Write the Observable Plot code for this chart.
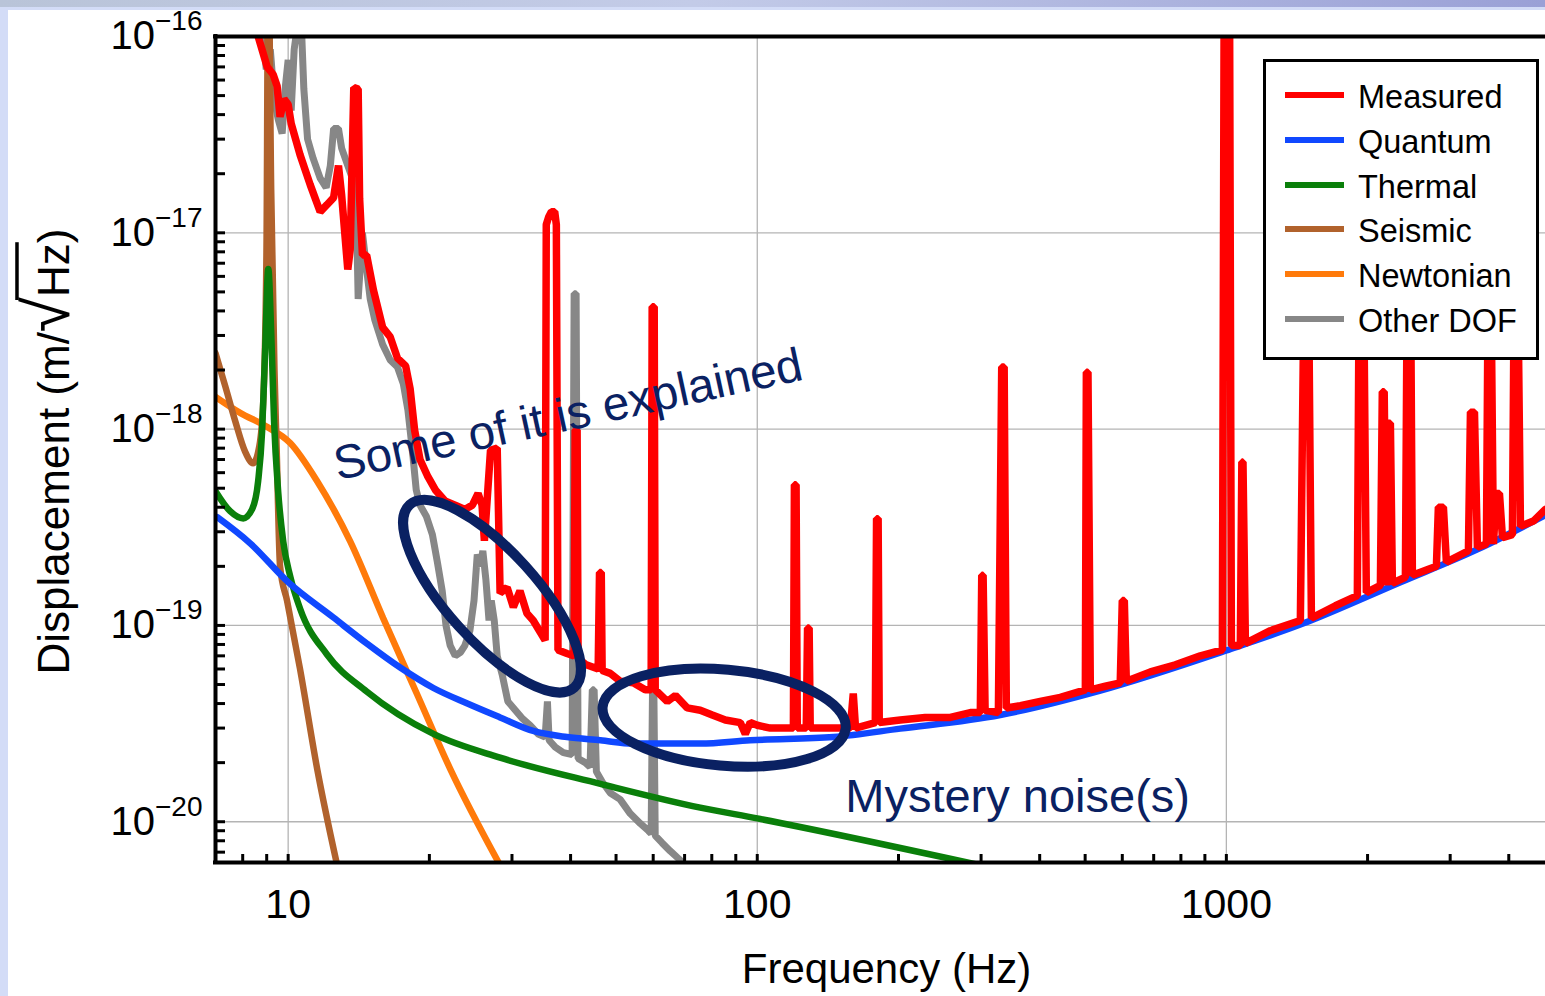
<!DOCTYPE html>
<html>
<head>
<meta charset="utf-8">
<script src="https://cdn.jsdelivr.net/npm/d3@7"></script>
<script src="https://cdn.jsdelivr.net/npm/@observablehq/plot@0.6"></script>
<style>
html,body{margin:0;padding:0;}
body{width:1545px;height:996px;overflow:hidden;background:#d3dcf7;position:relative;font-family:"Liberation Sans",Arial,sans-serif;}
#topband{position:absolute;left:0;top:0;width:1545px;height:7px;background:linear-gradient(to right,#b9c4d8,#c3cbe8 45%,#9aa0d6);}
#sheet{position:absolute;left:8px;top:10px;width:1537px;height:986px;background:#fff;}
#legend{position:absolute;left:1263px;top:59px;width:270px;height:295px;border:3px solid #000;background:#fff;}
.item{position:absolute;left:0;width:270px;height:44px;}
.sw{position:absolute;left:19px;top:19px;width:59px;height:6px;}
.lb{position:absolute;left:92px;top:2px;line-height:44px;font-size:32.5px;color:#000;white-space:nowrap;}
</style>
</head>
<body>
<div id="topband"></div>
<div id="sheet"></div>
<div id="legend"></div>
<script>
// ---------- data (Hz, m/sqrt(Hz)) ----------
const seriesNames = ["Measured", "Quantum", "Thermal", "Seismic", "Newtonian", "Other DOF"];
const seriesColors = ["#ff0000", "#1048ff", "#0a7f0a", "#b1622c", "#ff7a0a", "#878787"];

const xTickLabels = [10, 100, 1000];
const yTickLabels = [1e-20, 1e-19, 1e-18, 1e-17, 1e-16];
const xDomain = [7, 4790];
const yDomain = [6.2e-21, 1e-16];

const quantumHz  = [7.06, 8.3, 10, 12.47, 14.7, 17.33, 20.4, 24.1, 28.3, 33.3, 39.3, 46.3, 54.4, 75.6, 96.6, 145.3, 201.8, 329.6, 538.6, 1000, 1438, 2350, 3429, 4786];
const quantumAsd = [3.56e-19, 2.62e-19, 1.66e-19, 1.10e-19, 8.1e-20, 6.1e-20, 4.8e-20, 4.0e-20, 3.4e-20, 2.9e-20, 2.7e-20, 2.6e-20, 2.5e-20, 2.5e-20, 2.6e-20, 2.7e-20, 2.98e-20, 3.5e-20, 4.66e-20, 7.46e-20, 1.01e-19, 1.66e-19, 2.44e-19, 3.64e-19];

const thermalHz  = [7.0, 7.52, 8.02, 8.38, 8.63, 8.80, 8.93, 9.07, 9.20, 9.33, 9.52, 9.76, 10.1, 10.6, 12.1, 14.7, 20.4, 28.3, 46.3, 75.6, 100, 299];
const thermalAsd = [4.83e-19, 3.82e-19, 3.51e-19, 3.91e-19, 5.43e-19, 9.77e-19, 2.5e-18, 6.55e-18, 3.16e-18, 1.1e-18, 4.83e-19, 2.68e-19, 1.78e-19, 1.22e-19, 7.11e-20, 4.61e-20, 2.8e-20, 2.12e-20, 1.56e-20, 1.18e-20, 1.04e-20, 6.0e-21];

const seismicHz  = [7.0, 7.34, 7.71, 8.09, 8.42, 8.68, 8.85, 8.99, 9.07, 9.2, 9.35, 9.45, 9.61, 9.95, 10.6, 11.53, 12.72];
const seismicAsd = [2.44e-18, 1.66e-18, 1.1e-18, 7.7e-19, 6.7e-19, 8.2e-19, 1.39e-18, 8e-18, 3e-16, 1.66e-17, 2e-18, 8e-19, 2.0e-19, 1.33e-19, 6.0e-20, 1.86e-20, 6.0e-21];

const newtonianHz  = [7.0, 7.9, 8.93, 10.1, 11.53, 13.56, 15.94, 18.84, 22.15, 28.3];
const newtonianAsd = [1.46e-18, 1.21e-18, 1.04e-18, 8.5e-19, 5.43e-19, 2.68e-19, 1.09e-19, 4.45e-20, 1.86e-20, 6.0e-21];

const measuredPts = [
  [8.5, 2e-16], [8.63, 1.0e-16], [9.02, 7.0e-17], [9.29, 6.4e-17], [9.47, 5.6e-17], [9.61, 3.9e-17],
  [9.80, 4.8e-17], [10.0, 4.5e-17], [10.15, 3.6e-17], [10.6, 2.5e-17], [11.14, 1.76e-17], [11.7, 1.28e-17],
  [12.1, 1.39e-17], [12.5, 1.51e-17], [12.8, 2.2e-17], [13.0, 1.56e-17], [13.4, 6.5e-18], [13.56, 8.2e-18],
  [13.8, 5.5e-17], [14.1, 5.4e-17], [14.2, 1.5e-17], [14.4, 7.7e-18], [14.7, 7.7e-18], [15.2, 5.1e-18],
  [15.9, 3.3e-18], [16.5, 2.95e-18], [17.1, 2.3e-18], [17.8, 2.1e-18], [18.2, 1.6e-18], [18.6, 9.9e-19],
  [19.1, 7.0e-19], [19.8, 5.8e-19], [20.6, 4.9e-19], [21.6, 4.3e-19], [22.7, 4.1e-19], [23.8, 3.9e-19],
  [24.7, 4.1e-19], [25.4, 4.7e-19], [25.9, 4.1e-19], [26.2, 2.7e-19], [27.0, 7.8e-19], [27.9, 8.0e-19],
  [28.3, 1.46e-19], [29.3, 1.56e-19], [30.2, 1.24e-19], [31.2, 1.5e-19], [32.3, 1.15e-19], [33.3, 1.06e-19],
  [34.5, 9.2e-20], [35.3, 8.4e-20], [35.5, 1.1e-17], [35.9, 1.2e-17], [36.4, 1.28e-17], [37.0, 1.28e-17],
  [37.3, 1.1e-17], [37.6, 7.5e-20], [39.3, 7.2e-20], [40.7, 7.0e-20], [40.9, 9.9e-19], [41.3, 9.9e-19],
  [41.5, 6.8e-20], [43.2, 6.3e-20], [45.8, 6.0e-20], [46.1, 1.86e-19], [46.5, 1.86e-19], [46.7, 5.9e-20],
  [48.6, 5.7e-20], [51.0, 5.2e-20], [54.4, 5.1e-20], [57.7, 4.7e-20], [59.4, 4.7e-20], [59.7, 4.2e-18],
  [60.3, 4.2e-18], [60.6, 4.7e-20], [64.3, 4.1e-20], [66.9, 4.4e-20], [70.9, 3.8e-20], [75.6, 3.7e-20],
  [80.2, 3.5e-20], [85.5, 3.3e-20], [92.0, 3.2e-20], [94.3, 2.8e-20], [96.6, 3.2e-20], [100, 3.1e-20],
  [106.6, 3.0e-20], [114.7, 3.0e-20], [119.4, 3.0e-20], [120.0, 5.2e-19], [121.0, 5.2e-19], [121.7, 3.0e-20],
  [127.2, 3.0e-20], [128.0, 9.7e-20], [129.0, 9.7e-20], [129.7, 3.0e-20], [143.1, 3.0e-20], [157.9, 3.0e-20],
  [160.2, 4.5e-20], [162, 3.0e-20], [178.5, 3.2e-20], [179.6, 3.5e-19], [181.0, 3.5e-19], [182.0, 3.2e-20],
  [201.8, 3.3e-20], [228, 3.4e-20], [258, 3.4e-20], [284.6, 3.6e-20], [298.9, 3.6e-20], [301, 1.8e-19],
  [303, 1.8e-19], [306, 3.7e-20], [326.6, 3.6e-20], [332, 2.07e-18], [336, 2.07e-18], [339.6, 3.8e-20],
  [363.8, 3.9e-20], [401, 4.1e-20], [442.6, 4.3e-20], [500.5, 4.7e-20], [503, 1.95e-18], [507, 1.95e-18],
  [512.9, 4.7e-20], [552, 4.9e-20], [594, 5.1e-20], [600, 1.34e-19], [606, 1.34e-19], [612, 5.2e-20],
  [688.6, 5.8e-20], [778.6, 6.3e-20], [880.3, 7.0e-20], [980.6, 7.5e-20], [990, 3e-16], [1015, 3e-16],
  [1025, 7.9e-20], [1071, 7.9e-20], [1079, 6.8e-19], [1085, 6.8e-19], [1098, 8.1e-20], [1241, 9.4e-20],
  [1438, 1.06e-19], [1467, 8e-18], [1495, 8e-18], [1518, 1.09e-19], [1708, 1.26e-19], [1902, 1.42e-19],
  [1921, 8e-18], [1959, 8e-18], [1988, 1.47e-19], [2130, 1.6e-19], [2150, 1.55e-18], [2170, 1.55e-18],
  [2194, 1.6e-19], [2215, 1.07e-18], [2237, 1.07e-18], [2259, 1.64e-19], [2408, 1.76e-19], [2432, 8e-18],
  [2468, 8e-18], [2492, 1.8e-19], [2804, 2.0e-19], [2831, 4.0e-19], [2902, 4.0e-19], [2945, 2.1e-19],
  [3281, 2.4e-19], [3314, 1.22e-18], [3380, 1.22e-18], [3429, 2.5e-19], [3584, 2.6e-19], [3619, 8e-18],
  [3660, 8e-18], [3709, 2.6e-19], [3765, 4.7e-19], [3821, 4.7e-19], [3878, 2.8e-19], [4072, 2.9e-19],
  [4113, 8e-18], [4174, 8e-18], [4236, 3.2e-19], [4514, 3.4e-19], [4786, 3.9e-19]
];

const otherDofPts = [
  [8.7, 2e-16], [8.80, 1.2e-16], [8.98, 6.8e-17], [9.16, 8.6e-17], [9.34, 4.8e-17], [9.52, 3.8e-17],
  [9.71, 3.2e-17], [9.85, 5.4e-17], [10.0, 7.6e-17], [10.15, 4.2e-17], [10.3, 8.6e-17], [10.5, 1.2e-16],
  [10.66, 1.2e-16], [10.8, 5.4e-17], [11.0, 3.0e-17], [11.3, 2.4e-17], [11.7, 1.9e-17], [12.05, 1.7e-17],
  [12.3, 2.2e-17], [12.5, 3.4e-17], [12.8, 3.4e-17], [13.0, 2.7e-17], [13.4, 2.2e-17], [13.7, 1.9e-17],
  [13.96, 1.5e-17], [14.1, 4.6e-18], [14.4, 1.0e-17], [14.7, 6.5e-18], [14.96, 4.6e-18], [15.3, 3.6e-18],
  [15.9, 2.7e-18], [16.5, 2.25e-18], [17.1, 2.07e-18], [17.6, 1.7e-18], [18.0, 1.25e-18], [18.4, 7.8e-19],
  [18.75, 4.9e-19], [19.1, 4.1e-19], [19.7, 3.6e-19], [20.3, 2.9e-19], [20.8, 2.1e-19], [21.3, 1.5e-19],
  [21.7, 1.0e-19], [22.15, 7.9e-20], [22.7, 7.0e-20], [23.3, 7.3e-20], [23.8, 7.9e-20], [24.4, 9.4e-20],
  [24.9, 1.34e-19], [25.3, 2.3e-19], [25.7, 2.0e-19], [26.0, 2.4e-19], [26.4, 1.7e-19], [26.8, 1.06e-19],
  [27.1, 1.34e-19], [27.5, 1.06e-19], [27.9, 7.0e-20], [28.6, 5.6e-20], [29.4, 4.1e-20], [30.5, 3.7e-20],
  [31.6, 3.35e-20], [32.8, 3.1e-20], [34.1, 2.8e-20], [35.3, 2.7e-20], [35.7, 4.1e-20], [36.0, 2.6e-20],
  [37.1, 2.4e-20], [38.6, 2.25e-20], [40.3, 2.2e-20], [40.7, 4.9e-18], [41.1, 4.9e-18], [41.5, 2.1e-20],
  [43.0, 2.0e-20], [44.0, 1.9e-20], [44.5, 4.7e-20], [44.9, 4.7e-20], [45.4, 1.8e-20], [46.7, 1.6e-20],
  [48.6, 1.4e-20], [51.0, 1.3e-20], [53.6, 1.1e-20], [56.3, 9.8e-21], [58.6, 9.0e-21], [59.4, 8.7e-21],
  [59.8, 4.7e-20], [60.2, 4.7e-20], [60.6, 8.5e-21], [62.7, 7.8e-21], [65.2, 7.1e-21], [67.9, 6.5e-21],
  [70.2, 6.0e-21], [72.7, 5.6e-21]
];

// annotations (data-space anchors)
const noteExplained = {text: "Some of it is explained", f: 39.5, d: 1.18e-18};
const noteMystery   = {text: "Mystery noise(s)", f: 154, d: 1.33e-20};
const ellipseExplained = {f: 27.2, d: 1.41e-19};
const ellipseMystery   = {f: 85.0, d: 3.39e-20};

const xTitle = "Frequency (Hz)";
const yTitle = "Displacement (m/√Hz)";

// ---------- build ----------
const navy = "#0a2162";
const fromPairs = (pairs) => pairs.map(([f, d]) => ({f, d}));
const fromArrays = (hz, asd) => hz.map((f, i) => ({f, d: asd[i]}));

function ellipseSymbol(a, b, deg) {
  const t = deg * Math.PI / 180, c = Math.cos(t), s = Math.sin(t), k = 0.5522847;
  const P = (x, y) => [x * c - y * s, x * s + y * c];
  return {
    draw(ctx) {
      ctx.moveTo(...P(a, 0));
      ctx.bezierCurveTo(...P(a, k * b), ...P(k * a, b), ...P(0, b));
      ctx.bezierCurveTo(...P(-k * a, b), ...P(-a, k * b), ...P(-a, 0));
      ctx.bezierCurveTo(...P(-a, -k * b), ...P(-k * a, -b), ...P(0, -b));
      ctx.bezierCurveTo(...P(k * a, -b), ...P(a, -k * b), ...P(a, 0));
      ctx.closePath();
    }
  };
}

const xMinor = d3.scaleLog().domain(xDomain).ticks(40).filter(v => v > xDomain[0]);
const yMinor = d3.scaleLog().domain(yDomain).ticks(40);

const lineOpts = (color, w, curve) => ({x: "f", y: "d", stroke: color, strokeWidth: w, curve, clip: true, strokeLinejoin: "miter"});

const chart = Plot.plot({
  width: 1537,
  height: 986,
  marginLeft: 207,
  marginTop: 26,
  marginBottom: 134,
  marginRight: 0,
  style: {background: "transparent", fontFamily: "'Liberation Sans', Arial, sans-serif", color: "#000", overflow: "visible"},
  x: {type: "log", domain: xDomain, label: null, axis: null},
  y: {type: "log", domain: yDomain, label: null, axis: null},
  marks: [
    Plot.gridX(xTickLabels, {stroke: "#b4b4b4", strokeOpacity: 1, strokeWidth: 1.3}),
    Plot.gridY(yTickLabels.slice(0, 4), {stroke: "#b4b4b4", strokeOpacity: 1, strokeWidth: 1.3}),
    Plot.line(fromPairs(otherDofPts), lineOpts(seriesColors[5], 7, "linear")),
    Plot.line(fromArrays(newtonianHz, newtonianAsd), lineOpts(seriesColors[4], 6.5, "monotone-x")),
    Plot.line(fromArrays(seismicHz, seismicAsd), lineOpts(seriesColors[3], 6.5, "monotone-x")),
    Plot.line(fromArrays(thermalHz, thermalAsd), lineOpts(seriesColors[2], 6.5, "monotone-x")),
    Plot.line(fromArrays(quantumHz, quantumAsd), lineOpts(seriesColors[1], 6.5, "monotone-x")),
    Plot.line(fromPairs(measuredPts), lineOpts(seriesColors[0], 7.5, "linear")),
    Plot.dot([ellipseExplained], {x: "f", y: "d", symbol: ellipseSymbol(123, 45, 48), r: 5, fill: "none", stroke: navy, strokeWidth: 10}),
    Plot.dot([ellipseMystery], {x: "f", y: "d", symbol: ellipseSymbol(122, 48, 5), r: 5, fill: "none", stroke: navy, strokeWidth: 10}),
    Plot.text([noteExplained], {x: "f", y: "d", text: "text", rotate: -12.2, fontSize: 47.5, fill: navy, textAnchor: "middle"}),
    Plot.text([noteMystery], {x: "f", y: "d", text: "text", fontSize: 47, fill: navy, textAnchor: "start"}),
    // frame (left, top, bottom)
    Plot.ruleX([xDomain[0]], {stroke: "#000", strokeWidth: 4, strokeLinecap: "square"}),
    Plot.ruleY([yDomain[0], yDomain[1]], {stroke: "#000", strokeWidth: 4, strokeLinecap: "square"}),
    // inward ticks
    Plot.axisY(yMinor, {anchor: "left", tickSize: 10, dx: 10, stroke: "#000", strokeWidth: 3, fill: "none", label: null}),
    Plot.axisX(xMinor, {anchor: "bottom", tickSize: 8, dy: -8, stroke: "#000", strokeWidth: 3, fill: "none", label: null}),
    // tick labels
    Plot.axisY(yTickLabels, {anchor: "left", tickSize: 0, tickPadding: 13, fontSize: 40, fill: "#000",
      tickFormat: v => "10^\u2212" + Math.round(-Math.log10(v)), label: null}),
    Plot.axisX(xTickLabels, {anchor: "bottom", tickSize: 0, tickPadding: 26, fontSize: 41, fill: "#000",
      tickFormat: v => String(v), label: null}),
    // axis titles
    Plot.text([xTitle], {frameAnchor: "bottom", text: d => d, dy: 120, dx: 6, fontSize: 42, fill: "#000"}),
    Plot.text([yTitle], {frameAnchor: "left", text: d => d, dx: -161, dy: 2, rotate: -90, fontSize: 44, fill: "#000", textAnchor: "middle"})
  ]
});

document.getElementById("sheet").appendChild(chart);

// rich text: superscript exponents and the square-root overbar
const NS = "http://www.w3.org/2000/svg";
Array.from(chart.querySelectorAll("text")).forEach(t => {
  const s = t.textContent;
  if (s.includes("^")) {
    const [base, exp] = s.split("^");
    while (t.firstChild) t.removeChild(t.firstChild);
    const b = document.createElementNS(NS, "tspan"); b.textContent = base; t.appendChild(b);
    const e = document.createElementNS(NS, "tspan"); e.textContent = exp;
    e.setAttribute("font-size", "28"); e.setAttribute("dy", "-19"); t.appendChild(e);
  } else if (s.includes("√")) {
    const i = s.indexOf("√");
    while (t.firstChild) t.removeChild(t.firstChild);
    const p1 = document.createElementNS(NS, "tspan"); p1.textContent = s.slice(0, i); t.appendChild(p1);
    const p2 = document.createElementNS(NS, "tspan"); p2.textContent = "√"; p2.setAttribute("font-size", "64"); t.appendChild(p2);
    const p3 = document.createElementNS(NS, "tspan"); p3.textContent = s.slice(i + 1, s.length - 1); t.appendChild(p3);
    const p4 = document.createElementNS(NS, "tspan"); p4.textContent = s.slice(s.length - 1); t.appendChild(p4);
    try {
      const a = t.getExtentOfChar(i);
      const z = t.getExtentOfChar(s.length - 2);
      const bar = document.createElementNS(NS, "line");
      const yb = a.y + 0.1 * 64;
      bar.setAttribute("x1", a.x + a.width - 3);
      bar.setAttribute("x2", z.x + z.width + 1);
      bar.setAttribute("y1", yb);
      bar.setAttribute("y2", yb);
      bar.setAttribute("stroke", "#000");
      bar.setAttribute("stroke-width", "3.5");
      if (t.getAttribute("transform")) bar.setAttribute("transform", t.getAttribute("transform"));
      t.parentNode.appendChild(bar);
    } catch (err) {}
  }
});

// legend
const legend = document.getElementById("legend");
seriesNames.forEach((name, i) => {
  const row = document.createElement("div");
  row.className = "item";
  row.style.top = (11 + i * 44.8) + "px";
  const sw = document.createElement("div");
  sw.className = "sw"; sw.style.background = seriesColors[i];
  const lb = document.createElement("div");
  lb.className = "lb"; lb.textContent = name;
  row.appendChild(sw); row.appendChild(lb);
  legend.appendChild(row);
});
</script>
</body>
</html>
